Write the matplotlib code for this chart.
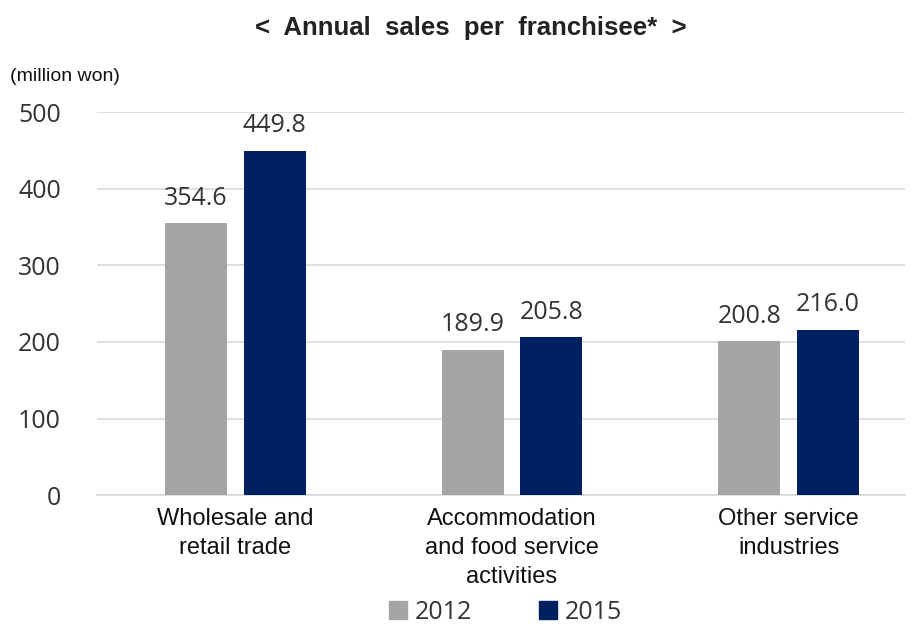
import matplotlib
matplotlib.use("Agg")
import matplotlib.pyplot as plt
import numpy as np
from matplotlib.patches import Patch

categories = ["Wholesale and\nretail trade",
              "Accommodation\nand food service\nactivities",
              "Other service\nindustries"]
years = ["2012", "2015"]
sales_2012 = [354.6, 189.9, 200.8]
sales_2015 = [449.8, 205.8, 216.0]
yticks = [0, 100, 200, 300, 400, 500]

COLORS = ["#A6A4A4", "#002060"]
NUM_FONT = ["Open Sans", "DejaVu Sans"]
TXT_FONT = ["Liberation Sans", "DejaVu Sans"]

fig = plt.figure(figsize=(9.14, 6.26), dpi=100)
ax = fig.add_axes([0.106, 0.209, 0.884, 0.612])

x = np.arange(len(categories))
w = 0.224
off = 0.142
for vals, dx, col in zip([sales_2012, sales_2015], [-off, off], COLORS):
    bars = ax.bar(x + dx, vals, width=w, color=col, zorder=3)
    for b, v in zip(bars, vals):
        ax.text(b.get_x() + b.get_width() / 2, v + 16, f"{v:.1f}",
                ha="center", va="bottom", fontsize=18, color="#333333",
                family=NUM_FONT)

ax.set_xlim(-0.5, 2.42)
ax.set_ylim(0, 500)
ax.set_yticks(yticks)
ax.set_yticklabels([str(t) for t in yticks], family=NUM_FONT, fontsize=18,
                   color="#333333")
ax.yaxis.grid(True, color="#D9D9D9", lw=1.2, zorder=0)
ax.tick_params(axis="y", length=0, pad=26)
ax.tick_params(axis="x", length=0, pad=9)
ax.set_xticks(x)
ax.set_xticklabels(categories, family=TXT_FONT, fontsize=17, color="#111111",
                   linespacing=1.42)
for s in ["top", "right", "left"]:
    ax.spines[s].set_visible(False)
ax.spines["bottom"].set_color("#D9D9D9")
ax.spines["bottom"].set_linewidth(1.2)

fig.text(0.515, 0.955, "<  Annual  sales  per  franchisee*  >", ha="center",
         va="center", fontsize=18.5, fontweight="bold", color="#222222",
         family=TXT_FONT)
fig.text(0.011, 0.878, "(million won)", ha="left", va="center", fontsize=14,
         color="#111111", family=TXT_FONT)

handles = [Patch(color=c) for c in COLORS]
fig.legend(handles, years, loc="center", bbox_to_anchor=(0.553, 0.022),
           ncol=2, frameon=False, handlelength=0.7, handleheight=0.7,
           columnspacing=2.7, handletextpad=0.3,
           prop={"family": NUM_FONT, "size": 18})
for t in fig.legends[0].get_texts():
    t.set_color("#333333")

fig.savefig("out.png", dpi=100)
